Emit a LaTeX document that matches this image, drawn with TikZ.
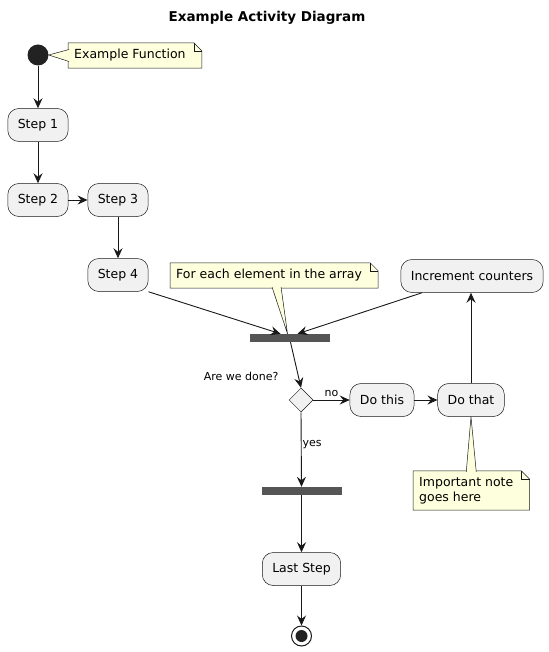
\documentclass[tikz,border=0pt]{standalone}
\usepackage{fontspec}
\setmainfont{DejaVu Sans}
\usepackage{tikz}
\usetikzlibrary{shapes.geometric, arrows.meta, backgrounds}
\definecolor{boxc}{HTML}{F1F1F1}
\definecolor{notec}{HTML}{FEFFDD}
\definecolor{linec}{HTML}{181818}
\definecolor{barc}{HTML}{555555}
\definecolor{dotc}{HTML}{222222}
\tikzstyle{activity} = [rectangle, rounded corners=11pt, minimum height=33pt, inner xsep=10pt, fill=boxc, draw=linec, line width=0.5pt, font=\fontsize{12.5}{15}\selectfont]
\tikzstyle{note} = [rectangle, anchor=west, align=left, minimum height=25pt, inner xsep=6pt, inner ysep=6pt, font=\fontsize{12.5}{15}\selectfont]
\tikzstyle{noteline} = [draw=linec, line width=0.5pt]
\tikzstyle{pointer} = [fill=notec, draw=linec, line width=0.5pt]
\tikzstyle{bar} = [rectangle, fill=barc, minimum width=80pt, minimum height=8pt, inner sep=0pt]
\tikzstyle{decision} = [diamond, fill=boxc, draw=linec, line width=0.5pt, minimum width=24pt, minimum height=24pt, inner sep=0pt]
\tikzstyle{startnode} = [circle, fill=dotc, minimum size=21pt, inner sep=0pt]
\tikzstyle{endnode} = [circle, fill=white, draw=linec, line width=1pt, minimum size=20pt, inner sep=0pt]
\tikzstyle{small} = [font=\fontsize{11}{13}\selectfont]
\tikzstyle{arrow} = [line width=0.9pt, draw=linec, ->, >={Stealth[length=10pt,width=9pt,inset=3.5pt]}]
\def\notecorner#1{%
  \begin{pgfonlayer}{background}
  \filldraw[fill=notec, noteline] (#1.south west) -- (#1.north west) -- ([xshift=2pt]#1.north east) -- ([shift={(10pt,-8pt)}]#1.north east) -- ([xshift=10pt]#1.south east) -- cycle;
  \draw[noteline] ([xshift=2pt]#1.north east) |- ([shift={(10pt,-8pt)}]#1.north east);
  \end{pgfonlayer}}

\begin{document}
\begin{tikzpicture}[x=1pt, y=-1pt, node distance=75pt]
\useasboundingbox (0,0) rectangle (548,652);
\node (title) at (267,18) {\fontsize{13.5}{16}\selectfont\bfseries Example Activity Diagram};

\node (start) [startnode] at (38,55) {};
\node (s1) [activity] at (38,125) {Step 1};
\node (s2) [activity, below of=s1] {Step 2};
\node (s3) [activity, right of=s2, xshift=5pt] {Step 3};
\node (s4) [activity, below of=s3] {Step 4};
\node (inc) [activity] at (472,276) {Increment counters};
\node (bar1) [bar] at (289.5,338) {};
\node (dec) [decision] at (301,400) {};
\node (dothis) [activity] at (382,400) {Do this};
\node (dothat) [activity, right of=dothis, xshift=14pt] {Do that};
\node (bar2) [bar] at (301.5,491) {};
\node (last) [activity] at (301.5,569) {Last Step};
\node (end) [endnode] at (301.5,636) {};
\fill[dotc] (end.center) circle (6pt);

\node (ask) [small, anchor=east] at ([shift={(-19pt,11pt)}]dec.north) {Are we done?};

\node (ef) [note] at (68,55.5) {Example Function};
\node (fe) [note] at (170,275.5) {For each element in the array};
\node (imp) [note] at (413,490.5) {Important note\\goes here};
\notecorner{ef}
\notecorner{fe}
\notecorner{imp}
\filldraw[pointer] ([shift={(1pt,6pt)}]ef.west) -- (start.east) -- ([shift={(1pt,-6pt)}]ef.west);
\filldraw[pointer] ([shift={(3pt,1pt)}]fe.south) -- ([xshift=-2pt]bar1.north) -- ([shift={(12pt,1pt)}]fe.south);
\filldraw[pointer] ([shift={(0pt,-1pt)}]imp.north) -- (dothat.south) -- ([shift={(10pt,-1pt)}]imp.north);

\draw [arrow] (start) -- (s1);
\draw [arrow] (s1) -- (s2);
\draw [arrow] (s2) -- (s3);
\draw [arrow] (s3) -- (s4);
\draw [arrow] (s4.south east) -- ([xshift=-9pt]bar1.north);
\draw [arrow] ([xshift=-50pt]inc.south) -- ([xshift=8pt]bar1.north);
\draw [arrow] ([xshift=1pt]bar1.south) -- (dec.north);
\draw [arrow] (dec.east) -- node[small, above, pos=0.5, inner sep=1pt, yshift=2pt] {no} (dothis.west);
\draw [arrow] (dothis) -- (dothat);
\draw [arrow] (dothat.north) -- (dothat.north |- inc.south);
\draw [arrow] (dec.south) -- node[small, right, pos=0.43, inner sep=1pt] {yes} (bar2.north);
\draw [arrow] (bar2) -- (last);
\draw [arrow] (last) -- (end);
\end{tikzpicture}
\end{document}
